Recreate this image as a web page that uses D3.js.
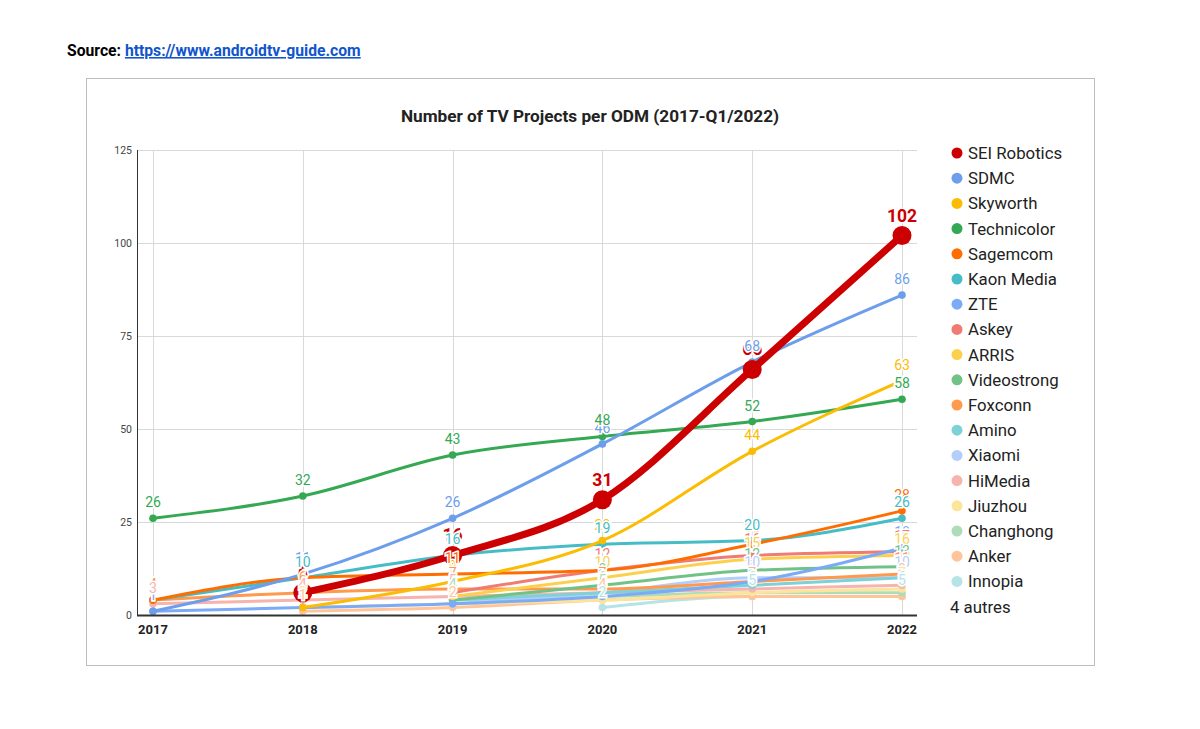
<!DOCTYPE html>
<html>
<head>
<meta charset="utf-8">
<script src="https://cdn.jsdelivr.net/npm/d3@7"></script>
<style>
  body { margin: 0; background: #fff; font-family: Roboto, Arial, sans-serif; }
  svg text { font-family: Roboto, Arial, sans-serif; }
</style>
</head>
<body>
<svg id="chart" width="1200" height="729"></svg>
<script>
// years on the x axis
const years = ["2017", "2018", "2019", "2020", "2021", "2022"];
const yTicks = [0, 25, 50, 75, 100, 125];

// one array per ODM, null where there is no project yet
const seiRobotics = [null, 6, 16, 31, 66, 102];
const sdmc        = [1, 11, 26, 46, 68, 86];
const skyworth    = [null, 2, 9, 20, 44, 63];
const technicolor = [26, 32, 43, 48, 52, 58];
const sagemcom    = [4, 10, 11, 12, 19, 28];
const kaonMedia   = [4, 10, 16, 19, 20, 26];
const zte         = [1, 2, 3, 5, 9, 18];
const askey       = [null, null, 6, 12, 16, 17];
const arris       = [null, null, 5, 10, 15, 16];
const videostrong = [null, null, 4, 8, 12, 13];
const foxconn     = [4, 6, 7, 7, 9, 11];
const amino       = [null, null, 4, 6, 8, 10];
const xiaomi      = [null, null, 3, 6, 10, 10];
const himedia     = [3, 4, 5, 6, 7, 8];
const jiuzhou     = [null, 2, 3, 4, 6, 7];
const changhong   = [null, null, 4, 5, 6, 6];
const anker       = [null, 1, 2, 4, 5, 5];
const innopia     = [null, null, null, 2, 5, 5];

const seriesNames = ["SEI Robotics", "SDMC", "Skyworth", "Technicolor", "Sagemcom", "Kaon Media",
  "ZTE", "Askey", "ARRIS", "Videostrong", "Foxconn", "Amino", "Xiaomi", "HiMedia",
  "Jiuzhou", "Changhong", "Anker", "Innopia"];
const seriesValues = [seiRobotics, sdmc, skyworth, technicolor, sagemcom, kaonMedia,
  zte, askey, arris, videostrong, foxconn, amino, xiaomi, himedia,
  jiuzhou, changhong, anker, innopia];
const seriesColors = ["#cc0000", "#6d9eeb", "#fbbc04", "#34a853", "#ff6d01", "#46bdc6",
  "#7baaf7", "#f07b72", "#fcd04f", "#71c287", "#ff994d", "#7ed1d7", "#b3cefb", "#f7b4ae",
  "#fde49b", "#aedcba", "#ffc599", "#b5e3e6"];
const moreLabel = "4 autres";

const svg = d3.select("#chart");

// source line
const src = svg.append("text").attr("x", 67).attr("y", 56)
  .attr("font-size", 15.7).attr("font-weight", "bold");
src.append("tspan").attr("fill", "#000").text("Source: ");
src.append("tspan").attr("fill", "#1155cc").attr("text-decoration", "underline")
  .text("https://www.androidtv-guide.com");

// chart frame
svg.append("rect").attr("x", 86.5).attr("y", 78.5).attr("width", 1008).attr("height", 587)
  .attr("fill", "#fff").attr("stroke", "#bdbdbd");

svg.append("text").attr("x", 590).attr("y", 122).attr("text-anchor", "middle")
  .attr("font-size", 17.2).attr("font-weight", "bold").attr("fill", "#222")
  .text("Number of TV Projects per ODM (2017-Q1/2022)");

const plotLeft = 137, plotRight = 917, plotTop = 150, plotBottom = 615;
const x = d3.scalePoint().domain(years).range([153, 902]);
const y = d3.scaleLinear().domain([0, 125]).range([plotBottom, plotTop]);

// gridlines
svg.append("g").selectAll("line").data(yTicks.filter(d => d > 0)).join("line")
  .attr("x1", plotLeft).attr("x2", plotRight)
  .attr("y1", d => Math.round(y(d)) + 0.5).attr("y2", d => Math.round(y(d)) + 0.5)
  .attr("stroke", "#d9d9d9");
svg.append("g").selectAll("line").data(years).join("line")
  .attr("y1", plotTop).attr("y2", plotBottom)
  .attr("x1", d => Math.round(x(d)) + 0.5).attr("x2", d => Math.round(x(d)) + 0.5)
  .attr("stroke", "#d9d9d9");

// y axis labels
svg.append("g").selectAll("text").data(yTicks).join("text")
  .attr("x", plotLeft - 5).attr("y", d => y(d) + 4)
  .attr("text-anchor", "end").attr("font-size", 10.5).attr("fill", "#444")
  .text(d => d);

// x axis labels
svg.append("g").selectAll("text").data(years).join("text")
  .attr("x", d => x(d)).attr("y", 634)
  .attr("text-anchor", "middle").attr("font-size", 13).attr("font-weight", "bold").attr("fill", "#222")
  .text(d => d);

const line = d3.line()
  .defined(d => d.v != null)
  .x(d => x(d.year)).y(d => y(d.v))
  .curve(d3.curveMonotoneX);

const series = seriesNames.map((name, i) => ({
  name, color: seriesColors[i], main: i === 0,
  pts: years.map((yr, j) => ({ year: yr, v: seriesValues[i][j] }))
}));

// lines from last to first so SEI Robotics ends on top
const drawOrder = series.slice().reverse();

const lines = svg.append("g");
drawOrder.forEach(s => {
  lines.append("path").datum(s.pts)
    .attr("fill", "none").attr("stroke", s.color)
    .attr("stroke-width", s.main ? 7 : 3)
    .attr("stroke-linejoin", "round")
    .attr("d", line);
  lines.selectAll(null).data(s.pts.filter(d => d.v != null)).join("circle")
    .attr("cx", d => x(d.year)).attr("cy", d => y(d.v))
    .attr("r", s.main ? 9.5 : 3.8)
    .attr("fill", s.color);
});

// data labels, in series order (later series sit over earlier ones)
const labels = svg.append("g");
series.forEach(s => {
  labels.selectAll(null).data(s.pts.filter(d => d.v != null)).join("text")
    .attr("x", d => x(d.year))
    .attr("y", d => y(d.v) - (s.main ? 14 : 11))
    .attr("text-anchor", "middle")
    .attr("font-size", s.main ? 17.5 : 14)
    .attr("font-weight", s.main ? "bold" : "normal")
    .attr("fill", s.color)
    .attr("stroke", "#fff").attr("stroke-width", 3).attr("paint-order", "stroke")
    .text(d => d.v);
});

// axes lines
svg.append("line").attr("x1", plotLeft + 0.5).attr("x2", plotLeft + 0.5).attr("y1", plotTop).attr("y2", plotBottom)
  .attr("stroke", "#333").attr("stroke-width", 1);
svg.append("line").attr("x1", plotLeft).attr("x2", plotRight).attr("y1", plotBottom + 0.5).attr("y2", plotBottom + 0.5)
  .attr("stroke", "#333").attr("stroke-width", 2);

// legend
const legend = svg.append("g");
series.forEach((s, i) => {
  const ly = 153 + i * 25.2;
  legend.append("circle").attr("cx", 957).attr("cy", ly).attr("r", 5.5).attr("fill", s.color);
  legend.append("text").attr("x", 968).attr("y", ly + 6)
    .attr("font-family", "'Liberation Sans', Arial, sans-serif")
    .attr("font-size", 16.8).attr("fill", "#222").text(s.name);
});
legend.append("text").attr("x", 950).attr("y", 153 + 18 * 25.2 + 6)
  .attr("font-family", "'Liberation Sans', Arial, sans-serif")
  .attr("font-size", 16.8).attr("fill", "#222").text(moreLabel);
</script>
</body>
</html>
